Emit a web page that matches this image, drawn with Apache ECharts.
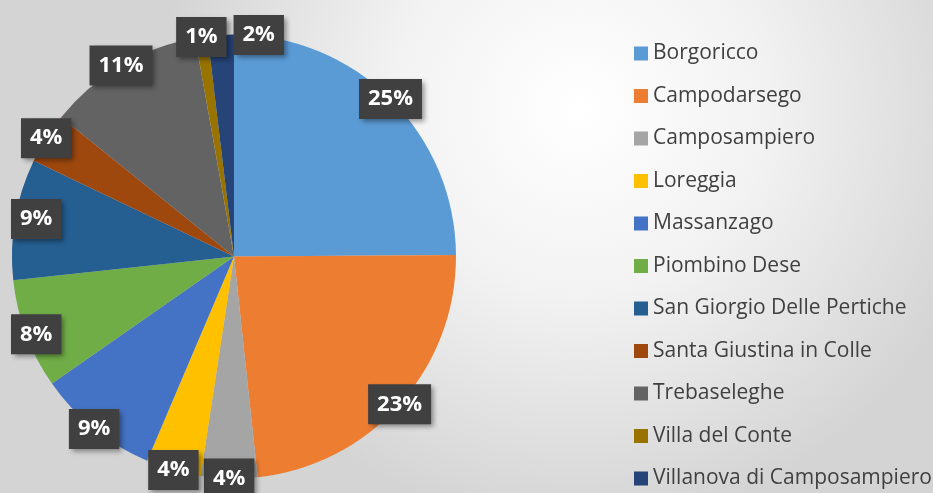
<!DOCTYPE html>
<html>
<head>
<meta charset="utf-8">
<script src="https://cdn.jsdelivr.net/npm/echarts@6/dist/echarts.min.js"></script>
<style>
  html, body { margin: 0; padding: 0; }
  #chart { width: 933px; height: 493px; }
</style>
</head>
<body>
<div id="chart"></div>
<script>
  // comuni e quote (in %)
  const comuni = ['Borgoricco', 'Campodarsego', 'Camposampiero', 'Loreggia', 'Massanzago',
    'Piombino Dese', 'San Giorgio Delle Pertiche', 'Santa Giustina in Colle', 'Trebaseleghe',
    'Villa del Conte', 'Villanova di Camposampiero'];
  const quote = [24.9, 23.4, 4.1, 4.0, 8.9, 8.0, 8.8, 3.7, 11.4, 0.9, 1.9];
  const colori = ['#5b9bd5', '#ed7d31', '#a5a5a5', '#ffc000', '#4472c4', '#70ad47',
    '#255e91', '#9e480e', '#636363', '#997300', '#264478'];

  const pieData = comuni.map((c, i) => ({ name: c, value: quote[i], itemStyle: { color: colori[i] } }));

  const center = [234, 256.5];
  const margine = 11; // le etichette restano dentro l'area del grafico
  const stacco = 7;   // distanza tra due etichette che si toccherebbero

  // se un'etichetta copre la precedente la sposto a destra
  let precedente = null;
  function sistemaEtichetta(p) {
    const r = p.labelRect;
    if (p.dataIndex === 0) precedente = null;
    let cx = Math.max(r.x + r.width / 2, margine + r.width / 2);
    let cy = Math.max(r.y + r.height / 2, margine + r.height / 2);
    let box = { x: cx - r.width / 2, y: cy - r.height / 2, w: r.width, h: r.height };
    if (precedente &&
        box.x < precedente.x + precedente.w && box.x + box.w > precedente.x &&
        box.y < precedente.y + precedente.h && box.y + box.h > precedente.y) {
      box.x = precedente.x + precedente.w + stacco;
      cx = box.x + box.w / 2;
    }
    precedente = box;
    return { x: cx, y: cy };
  }

  const option = {
    backgroundColor: {
      type: 'radial', x: 0.62, y: 0.22, r: 0.85,
      colorStops: [
        { offset: 0, color: '#ffffff' },
        { offset: 0.45, color: '#f2f2f2' },
        { offset: 1, color: '#d4d4d4' }
      ]
    },
    animation: false,
    legend: {
      orient: 'vertical',
      left: 634,
      top: 43,
      padding: 0,
      height: 460,
      icon: 'rect',
      itemWidth: 14,
      itemHeight: 14,
      itemGap: 21.5,
      textStyle: { fontFamily: 'Open Sans', fontSize: 21, lineHeight: 21, color: '#404040' },
      data: comuni
    },
    series: [
      {
        // torta principale
        type: 'pie',
        center: center,
        radius: 222,
        startAngle: 90,
        clockwise: true,
        avoidLabelOverlap: false,
        label: { show: false },
        labelLine: { show: false },
        emphasis: { disabled: true },
        data: pieData
      },
      {
        // solo etichette, vicino al bordo
        type: 'pie',
        center: center,
        radius: [206, 232],
        startAngle: 90,
        silent: true,
        avoidLabelOverlap: false,
        itemStyle: { color: 'rgba(0,0,0,0)' },
        labelLine: { show: false },
        label: {
          show: true,
          position: 'inside',
          formatter: p => Math.round(p.percent) + '%',
          fontFamily: 'Open Sans',
          fontWeight: 'bold',
          fontSize: 22,
          lineHeight: 24,
          color: '#ffffff',
          backgroundColor: '#404040',
          padding: [8, 9],
          shadowBlur: 5,
          shadowOffsetX: 3,
          shadowOffsetY: 3,
          shadowColor: 'rgba(0,0,0,0.4)'
        },
        labelLayout: sistemaEtichetta,
        data: comuni.map((c, i) => ({ name: c, value: quote[i] }))
      }
    ]
  };

  const chart = echarts.init(document.getElementById('chart'));
  chart.setOption(option);
</script>
</body>
</html>
